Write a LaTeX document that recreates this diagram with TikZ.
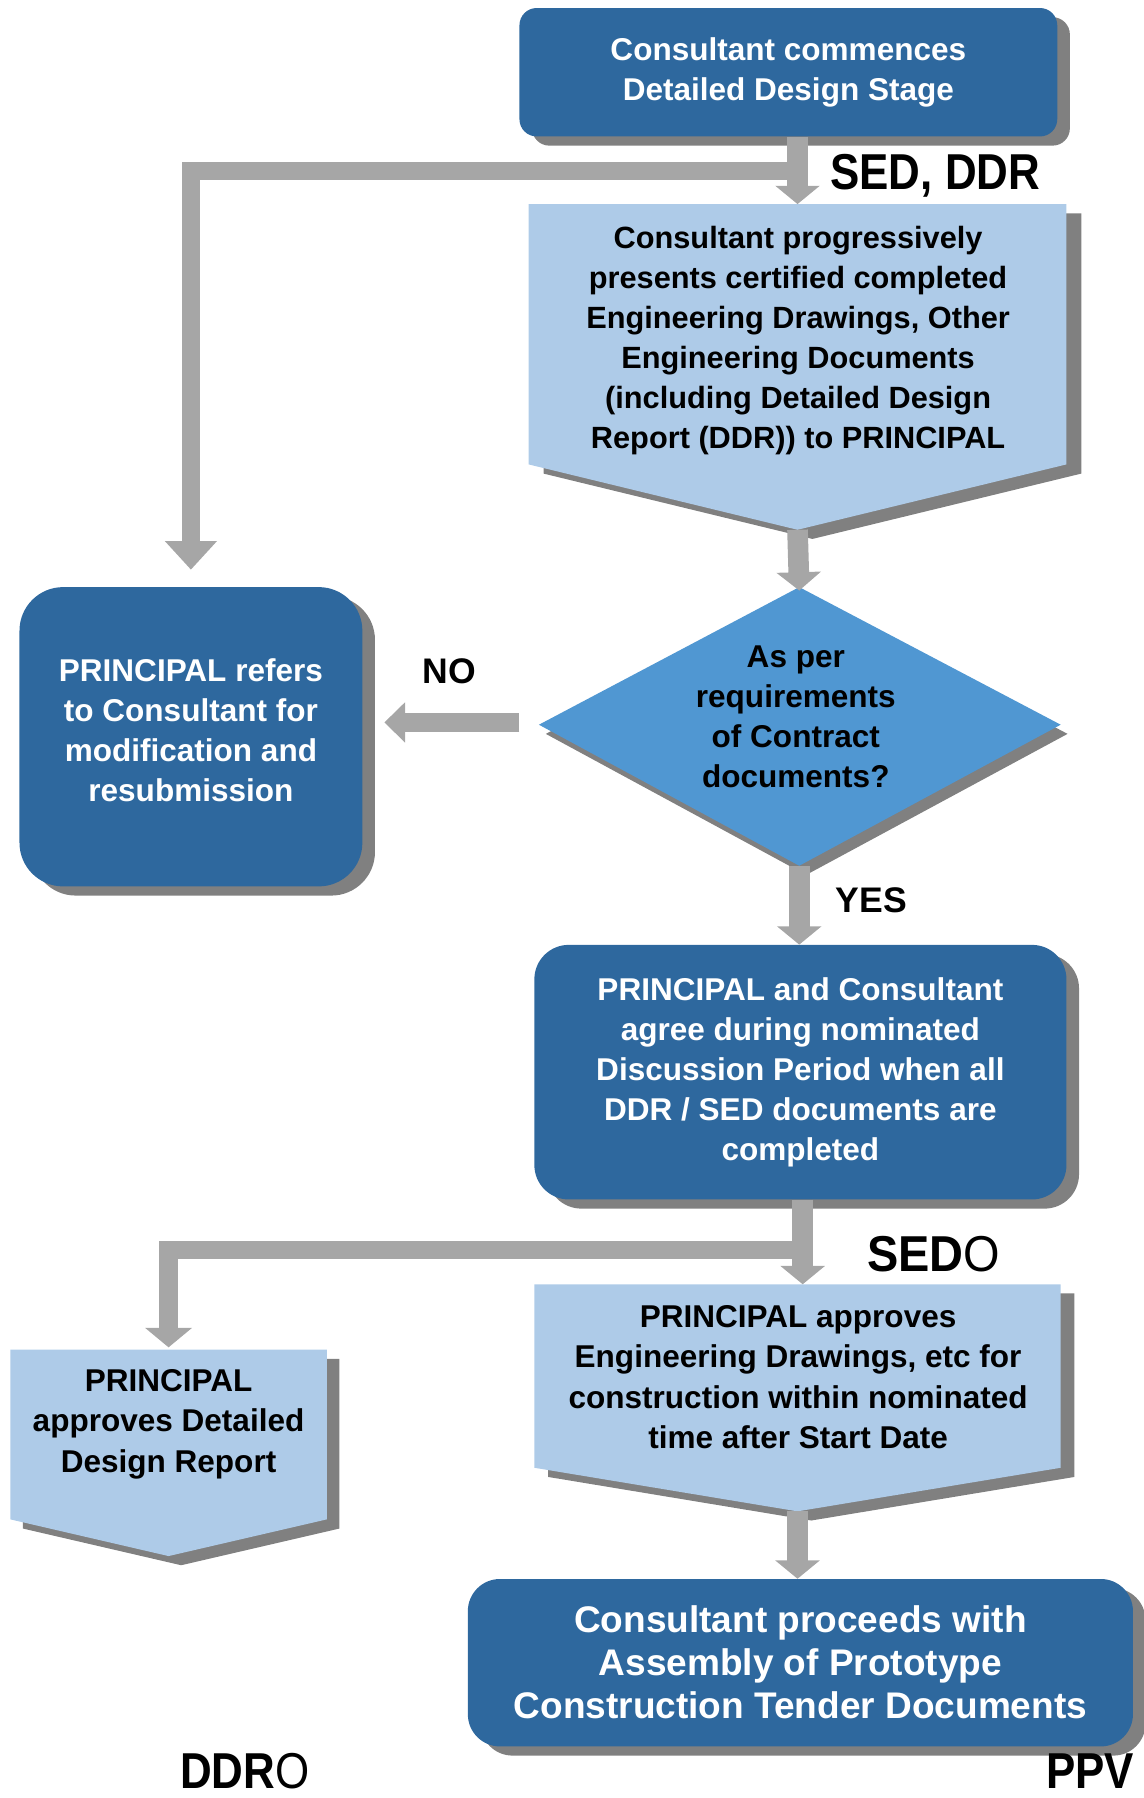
\documentclass[tikz,border=0pt]{standalone}
\usepackage{fontspec}
\setmainfont{Liberation Sans}
\usepackage{graphicx}
\usetikzlibrary{arrows.meta,shadows,calc}
\definecolor{dkblue}{RGB}{46,104,158}
\definecolor{ltblue}{RGB}{174,203,232}
\definecolor{dmblue}{RGB}{80,151,210}
\definecolor{arrgray}{RGB}{166,166,166}
\definecolor{shgray}{RGB}{128,128,128}
\newcommand{\drawpenta}[6]{%
  \fill[shgray] ({#1+#6},{#3+8}) -- ({#2+#6},{#3+8}) -- ({#2+#6},{#4+8}) -- ({(#1+#2)/2+#6},{#5+8}) -- ({#1+#6},{#4+8}) -- cycle;
  \fill[ltblue] (#1,#3) -- (#2,#3) -- (#2,#4) -- ({(#1+#2)/2},#5) -- (#1,#4) -- cycle;}
\begin{document}
\begin{tikzpicture}[x=1pt,y=-1pt,
  darkbox/.style={fill=dkblue, text=white, font=\bfseries\fontsize{27.5}{35}\selectfont, align=center, inner sep=0pt,
    general shadow={fill=shgray, shadow xshift=11pt, shadow yshift=-8pt}},
  whitetext/.style={text=white, font=\bfseries\fontsize{27.5}{35}\selectfont, align=center, inner sep=0pt},
  blacktext/.style={text=black, font=\bfseries\fontsize{27.5}{35}\selectfont, align=center, inner sep=0pt},
  fatarrow/.style={draw=arrgray, line width=18pt, -{Triangle[width=38pt,length=16pt]}},
  brarrow/.style={draw=arrgray, line width=16pt, line join=miter, -{Triangle[width=44pt,length=25pt]}},
  brarrowb/.style={draw=arrgray, line width=16pt, line join=miter, -{Triangle[width=40pt,length=17pt]}},
  noarrow/.style={draw=arrgray, line width=16pt, -{Triangle[width=34pt,length=18pt]}},
  biglbl/.style={text=black, inner sep=0pt, font=\fontsize{44}{48}\selectfont},
  smlbl/.style={text=black, inner sep=0pt, font=\bfseries\fontsize{31}{35}\selectfont}]
\useasboundingbox (0,0) rectangle (997,1568);

% shapes drawn as paths
\drawpenta{461}{930}{178}{405}{462}{13}
\drawpenta{466}{925}{1120}{1280}{1318}{12}
\drawpenta{9}{285}{1177}{1325}{1357}{11}
\fill[shgray] (476,640) -- (703,520) -- (931,640) -- (703,763) -- cycle;
\fill[dmblue] (470,632) -- (697,512) -- (925,632) -- (697,755) -- cycle;

\coordinate (p1top) at (695.5,178);
\coordinate (p1tip) at (695.5,462);
\coordinate (p2top) at (695.5,1120);
\coordinate (p2tip) at (695.5,1318);
\coordinate (p3top) at (147,1177);
\coordinate (dtop) at (697,512);
\coordinate (dbot) at (697,755);
\coordinate (dwest) at (470,630);
\coordinate (b1) at (695.5,149);
\coordinate (b2) at (700,1090);

% boxes
\node[darkbox, minimum width=469pt, minimum height=112pt, rounded corners=15pt] (start) at (687.5,63)
  {Consultant commences\\Detailed Design Stage};
\node[darkbox, minimum width=299pt, minimum height=261pt, rounded corners=38pt] (refer) at (166.5,642.5) {};
\node[whitetext] (refertxt) at (166.5,637)
  {PRINCIPAL refers\\to Consultant for\\modification and\\resubmission};
\node[darkbox, minimum width=464pt, minimum height=222pt, rounded corners=30pt] (mid) at (698,935)
  {PRINCIPAL and Consultant\\agree during nominated\\Discussion Period when all\\DDR / SED documents are\\completed};
\node[darkbox, minimum width=580pt, minimum height=146pt, rounded corners=28pt, font=\bfseries\fontsize{32.3}{37.5}\selectfont] (bot) at (698,1450)
  {Consultant proceeds with\\Assembly of Prototype\\Construction Tender Documents};

% texts of path shapes
\node[blacktext, font=\bfseries\fontsize{26.8}{35}\selectfont] (p1) at (696,297)
  {Consultant progressively\\presents certified completed\\Engineering Drawings, Other\\Engineering Documents\\(including Detailed Design\\Report (DDR)) to PRINCIPAL};
\node[blacktext] (dq) at (694,625) {As per\\requirements\\of Contract\\documents?};
\node[blacktext] (p2) at (696,1201)
  {PRINCIPAL approves\\Engineering Drawings, etc for\\construction within nominated\\time after Start Date};
\node[blacktext] (p3) at (147,1242) {PRINCIPAL\\approves Detailed\\Design Report};

% connectors
\draw[brarrow] (b1) -| ([yshift=15pt]refer.north);
\draw[fatarrow] (start.south -| p1top) -- (p1top);
\draw[fatarrow] (p1tip) -- ([yshift=-3pt]dtop);
\draw[noarrow] ($(dwest)+(-17,0)$) -- ($(dwest -| refer.east)+(19,0)$);
\draw[fatarrow] (dbot) -- (dbot |- mid.north);
\draw[brarrowb] (b2) -| ([yshift=2pt]p3top);
\draw[fatarrow] (mid.south -| b2) -- (b2 |- p2top);
\draw[fatarrow] (p2tip) -- (p2tip |- bot.north);

% labels
\node[biglbl, anchor=west] (lsed) at (724,153) {\scalebox{0.87}[1]{\bfseries SED, DDR}};
\node[smlbl] (lno) at (392,585) {NO};
\node[smlbl] (lyes) at (760,785) {YES};
\node[biglbl, anchor=west] (lsedo) at (756,1094) {\scalebox{0.93}[1]{\textbf{SED}O}};
\node[biglbl, anchor=base west] (lddro) at (157,1560) {\scalebox{0.87}[1]{\textbf{DDR}O}};
\node[biglbl, anchor=base west] (lppv) at (912,1560) {\scalebox{0.87}[1]{\bfseries PPV}};
\end{tikzpicture}
\end{document}
